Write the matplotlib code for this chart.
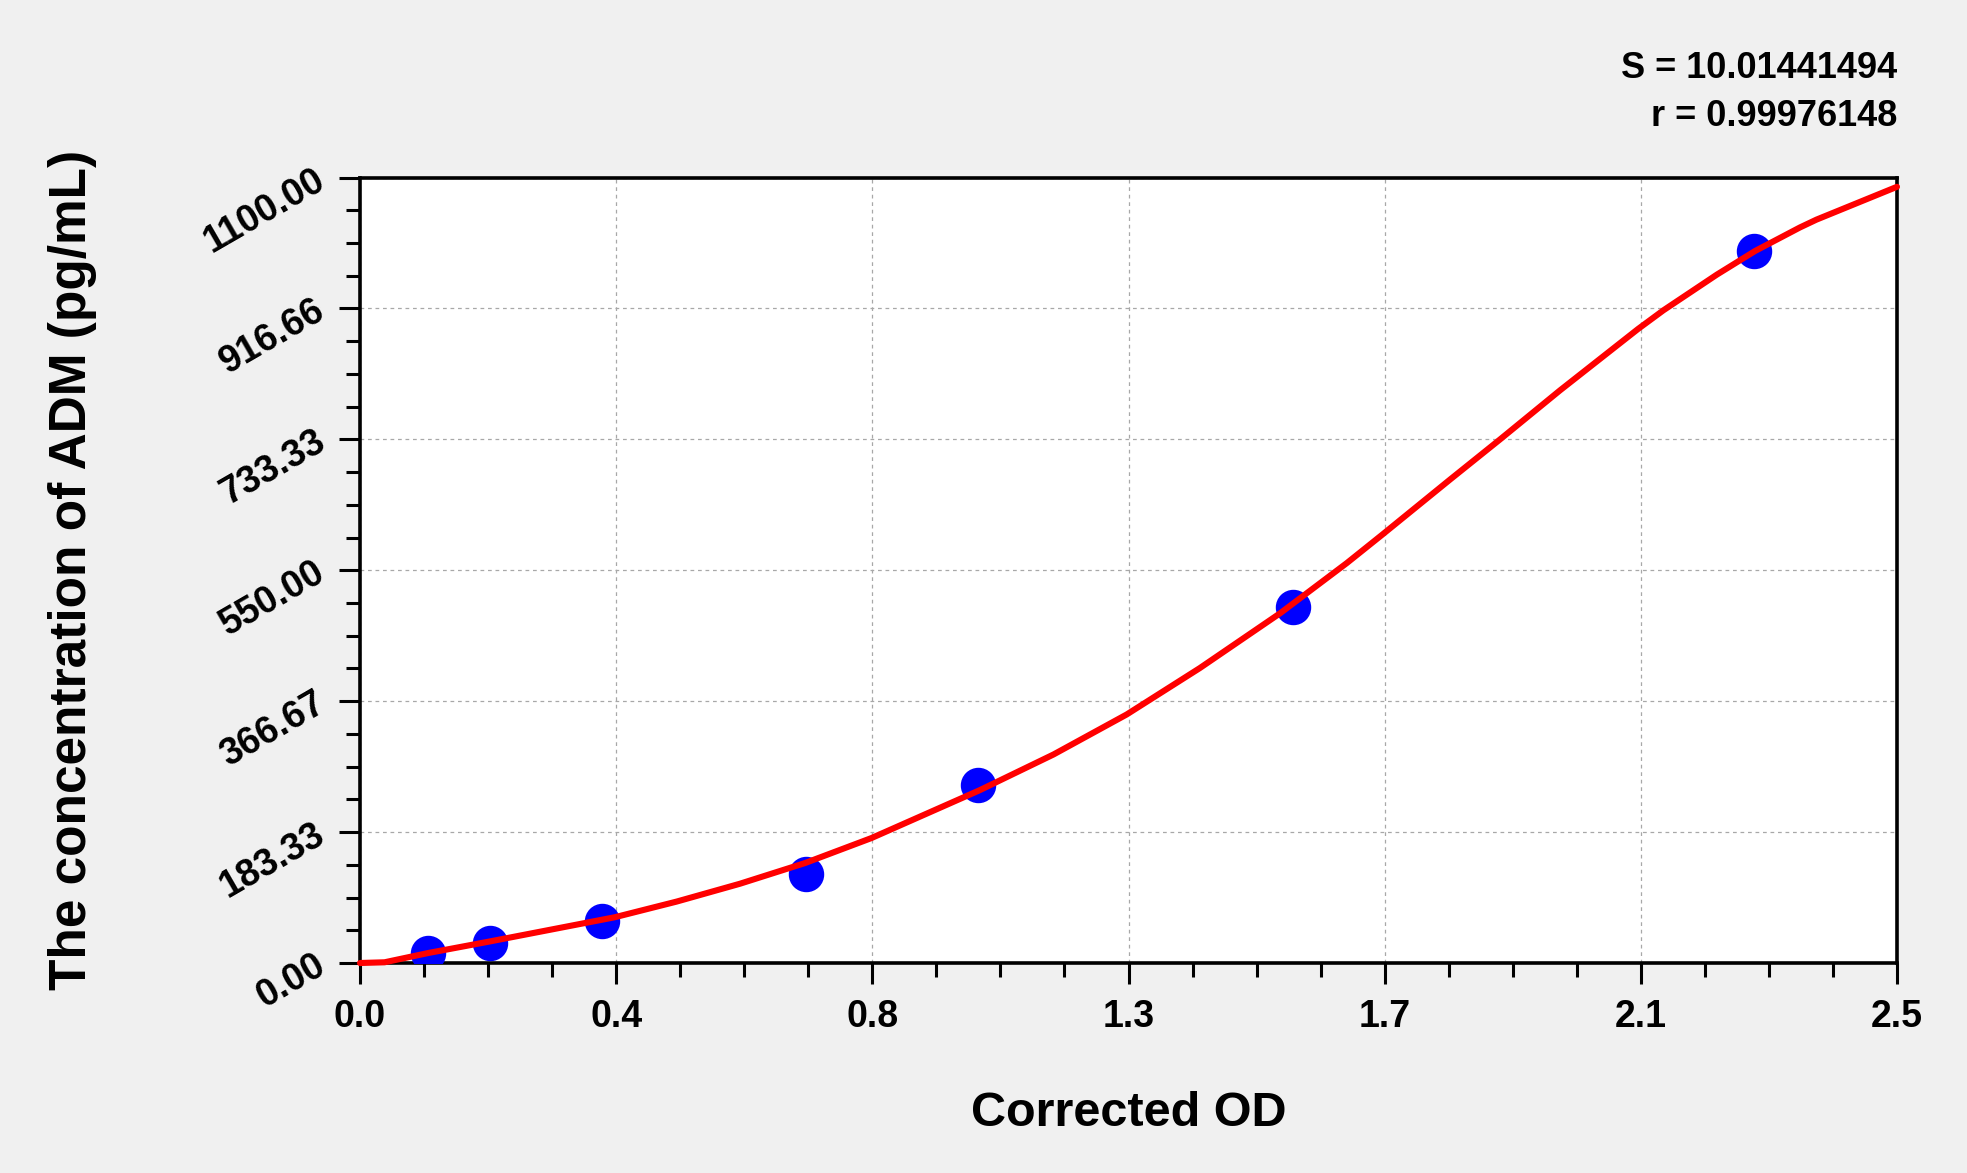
import numpy as np
import matplotlib
matplotlib.use("Agg")
import matplotlib.pyplot as plt
from matplotlib.ticker import FixedLocator, MultipleLocator

plt.rcParams['font.family'] = ['Liberation Sans', 'DejaVu Sans']

# Standard points (Corrected OD vs concentration)
od_points = [0.111, 0.2115, 0.393, 0.725, 1.005, 1.517, 2.268]
conc_points = [13.6, 27.6, 58.8, 125.0, 249.0, 498.0, 997.5]

# Fitted curve
curve_od = [0.0, 0.04, 0.111, 0.21, 0.414, 0.515, 0.618, 0.724, 0.832, 1.008,
            1.128, 1.247, 1.366, 1.497, 1.605, 1.663, 1.773, 1.854, 1.952,
            2.079, 2.12, 2.207, 2.269, 2.342, 2.369, 2.5]
curve_conc = [0.0, 1.0, 14.0, 30.0, 64.0, 86.0, 111.0, 140.0, 175.0, 242.0,
              292.0, 348.0, 413.0, 490.0, 560.0, 600.0, 677.0, 733.0, 802.0,
              888.0, 914.0, 964.0, 997.0, 1030.0, 1041.0, 1087.0]

x_tick_labels = ['0.0', '0.4', '0.8', '1.3', '1.7', '2.1', '2.5']
y_tick_labels = ['0.00', '183.33', '366.67', '550.00', '733.33', '916.66', '1100.00']
x_max = 2.5
y_max = 1100.0
stats_lines = ['S = 10.01441494', 'r = 0.99976148']
x_title = 'Corrected OD'
y_title = 'The concentration of ADM (pg/mL)'

W, H = 1967, 1173
fig = plt.figure(figsize=(W / 100, H / 100), dpi=100, facecolor='#F0F0F0')
ax = fig.add_axes([360 / W, 1 - 963 / H, (1897 - 360) / W, (963 - 177.5) / H])
ax.set_facecolor('white')

ax.set_xlim(0, x_max)
ax.set_ylim(0, y_max)

xt = np.linspace(0, x_max, len(x_tick_labels))
yt = np.linspace(0, y_max, len(y_tick_labels))
ax.xaxis.set_major_locator(FixedLocator(xt))
ax.yaxis.set_major_locator(FixedLocator(yt))
ax.xaxis.set_minor_locator(MultipleLocator(x_max / 24))
ax.yaxis.set_minor_locator(MultipleLocator(y_max / 24))

ax.set_xticklabels(x_tick_labels, fontsize=27, fontweight='bold')
ax.set_yticklabels(y_tick_labels, fontsize=27, fontweight='bold', rotation=30,
                   ha='right', va='center', rotation_mode='anchor')

ax.tick_params(axis='both', which='major', direction='out', length=15, width=2.2, color='black')
ax.tick_params(axis='both', which='minor', direction='out', length=10, width=2.2, color='black')
ax.tick_params(axis='x', which='major', pad=11)
ax.tick_params(axis='y', which='major', pad=12)

for s in ax.spines.values():
    s.set_linewidth(2.6)
    s.set_color('black')

ax.grid(True, which='major', color='#A8A8A8', linestyle=(0, (3, 3)), linewidth=0.9)
ax.set_axisbelow(True)

ax.plot(od_points, conc_points, linestyle='none', marker='o', markersize=24.5,
        markerfacecolor='#0000FF', markeredgecolor='#0000FF', zorder=3)
ax.plot(curve_od, curve_conc, color='#FF0000', linewidth=4.4,
        solid_capstyle='round', solid_joinstyle='round', zorder=4, clip_on=False)

fig.text(1897 / W, 1 - 77.7 / H, stats_lines[0], ha='right', va='baseline',
         fontsize=26, fontweight='bold')
fig.text(1897 / W, 1 - 126 / H, stats_lines[1], ha='right', va='baseline',
         fontsize=26, fontweight='bold')

fig.text(1128.5 / W, 1 - 1113 / H, x_title, ha='center', va='center',
         fontsize=35, fontweight='bold')
fig.text(73 / W, 1 - 570 / H, y_title, ha='center', va='center', rotation=90,
         fontsize=37, fontweight='bold')

fig.savefig('out.png', dpi=100, facecolor=fig.get_facecolor())
